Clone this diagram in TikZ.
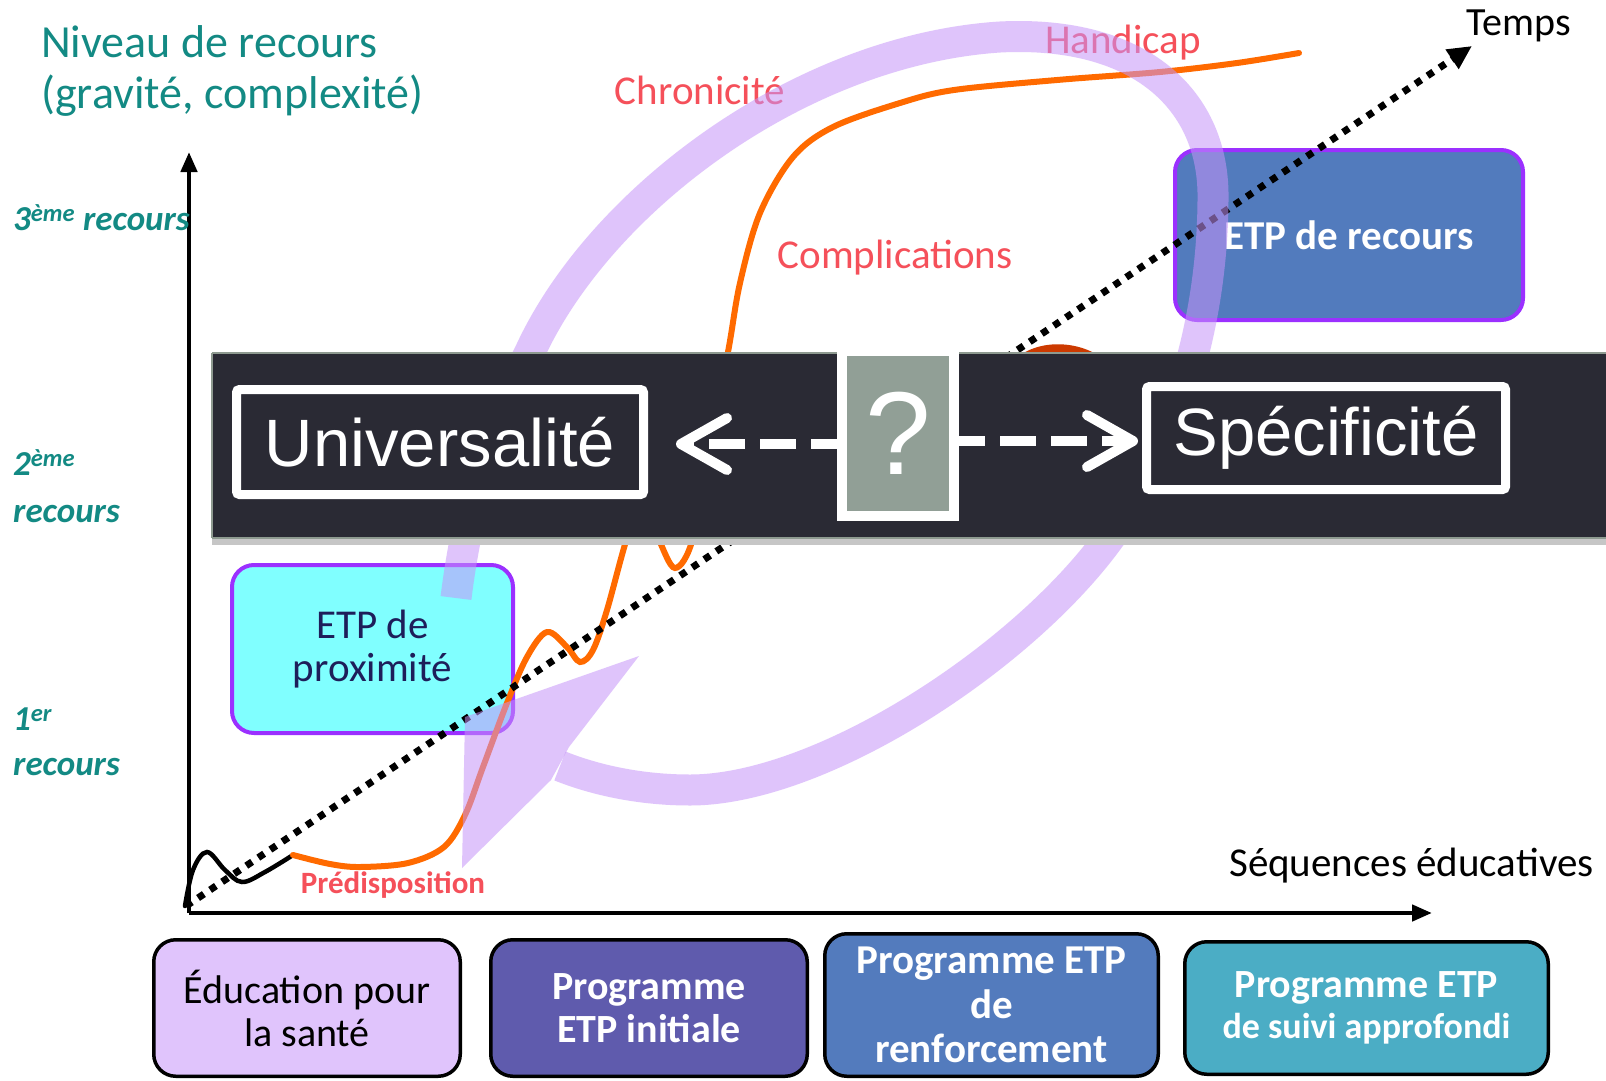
\documentclass[tikz,border=0pt]{standalone}
\usepackage{fontspec}
\setmainfont{Carlito}
\newfontfamily\arialf{Liberation Sans}
\usetikzlibrary{arrows.meta}
\definecolor{teal1}{HTML}{138A84}
\definecolor{redlbl}{HTML}{F5505A}
\definecolor{orng}{HTML}{FF6A00}
\definecolor{lav}{HTML}{C694F9}
\definecolor{bannerc}{HTML}{2A2A34}
\definecolor{bannerln}{HTML}{8E9A90}
\definecolor{qgray}{HTML}{919F96}
\definecolor{cyanbox}{HTML}{80FFFF}
\definecolor{purpbd}{HTML}{9B30FF}
\definecolor{blubox}{HTML}{527BBD}
\definecolor{bxa}{HTML}{E0C4FC}
\definecolor{bxb}{HTML}{5F5BAD}
\definecolor{bxc}{HTML}{537BBD}
\definecolor{bxd}{HTML}{4BADC5}
\definecolor{navy}{HTML}{1E1E5A}
\definecolor{bumpc}{HTML}{CC3A00}
\begin{document}
\begin{tikzpicture}[x=1pt,y=-1pt,
  lbl/.style={text=redlbl, font=\fontsize{41}{49}\selectfont, inner sep=0},
  tl/.style={text=teal1, font=\bfseries\itshape\fontsize{35}{40}\selectfont, anchor=west, inner sep=0},
  prog/.style={draw=black, line width=3.5pt, rounded corners=22pt, inner sep=0, align=center, font=\fontsize{40}{43}\selectfont},
  progw/.style={prog, text=white, font=\bfseries\fontsize{40}{43}\selectfont},
  etpbox/.style={draw=purpbd, line width=4pt, rounded corners=22pt, inner sep=0, align=center},
  wbox/.style={draw=white, line width=9pt, fill=bannerc, text=white, inner sep=0, rounded corners=3pt, font=\arialf\fontsize{67}{67}\selectfont},
  wdash/.style={white, line width=10pt, dash pattern=on 36pt off 15pt, -{Straight Barb[length=46pt,width=52pt,line cap=round,line join=round]}},
  axisln/.style={line width=4.5pt, -{Triangle[length=20pt,width=16pt]}},
  dotln/.style={line width=7pt, dash pattern=on 7pt off 7.5pt, -{Triangle[length=24pt,width=22pt]}},
  curve/.style={orng, line width=6pt, line cap=round},
  band/.style={draw=lav, line width=31pt, draw opacity=0.55},
  bandhead/.style={fill=lav, fill opacity=0.55},
]
\fill[white] (0,0) rectangle (1606,1081);
\useasboundingbox (0,0) rectangle (1606,1081);

% axes
\coordinate (ax0) at (189,913);
\coordinate (ytop) at (189,152);
\coordinate (xend) at (1432,913);
\draw[axisln] (ax0) -- (ytop);
\draw[axisln] (ax0) -- (xend);

% level boxes
\node[etpbox, fill=blubox, minimum width=348pt, minimum height=170pt, text=white,
      font=\bfseries\fontsize{41}{45}\selectfont] (recours) at (1349,235) {ETP de recours};
\node[etpbox, fill=cyanbox, minimum width=281pt, minimum height=168pt, text=navy,
      font=\fontsize{41}{43}\selectfont] (prox) at (372.5,649) {ETP de\\proximité};

% red labels
\node[lbl] (chron) at (700,90) {Chronicité};
\node[lbl] (handi) at (1123,43) {Handicap};
\node[lbl] (compl) at (895,258) {Complications};
\node[lbl, font=\bfseries\fontsize{31}{36}\selectfont] (predis) at (393,885) {Prédisposition};

% hidden bump above banner
\fill[bumpc] (1022,354) .. controls (1042,341) and (1073,341) .. (1096,354) -- cycle;

% black start wave and orange curve
\draw[line width=4.5pt, line cap=round] plot[smooth, tension=0.6] coordinates
  {(185,906) (193,870) (207,852) (225,870) (242,882) (265,872) (293,855)};
\draw[curve] plot[smooth, tension=0.55] coordinates
  {(293,855) (330,864) (360,867) (408,863) (444,847) (465,815) (483,767) (507,703)
   (527,657) (547,632) (567,647) (580,662) (593,650) (607,610) (627,538) (642,505)
   (658,538) (675,568) (693,538) (710,440) (728,352) (740,283) (760,213) (793,157)
   (833,127) (900,103) (954,90) (1057,80) (1160,72) (1237,63) (1299,53)};

% dotted time axis
\coordinate (torig) at (186,906);
\coordinate (ttip) at (1472,46);
\draw[dotln] (torig) -- (ttip);

% lavender circular arrow
\coordinate (bt) at (456,598);
\coordinate (bend) at (560,766);
\path[band] (bt) .. controls (468,500) and (495,420) .. (530,352)
  .. controls (600,200) and (800,50) .. (1000,37)
  .. controls (1140,30) and (1215,100) .. (1213,200)
  .. controls (1212,350) and (1160,470) .. (1108,540)
  .. controls (1020,660) and (820,790) .. (690,790)
  .. controls (640,790) and (595,780) .. (bend);
\path[bandhead] (639,656) -- (569,747) -- (551,780) -- (462,868) -- (465,717) -- cycle;

% banner
\fill[gray!45] (212,538) rectangle (1606,545);
\fill[bannerc] (212,353) rectangle (1606,538);
\draw[bannerln, line width=2.5pt] (212,353) -- (1606,353);
\draw[bannerln, line width=2pt] (212,538) -- (1606,538);
\draw[bannerln, line width=1.5pt] (212,353) -- (212,538);

\node[wbox, minimum width=407pt, minimum height=105pt] (univ) at (440,442) {Universalité};
\node[wbox, minimum width=359pt, minimum height=103pt] (spec) at (1326,438) {Spécificité};
\draw[wdash, shorten >=28pt] (898,444) -- (univ.east |- 898,444);
\draw[wdash, shorten >=4pt] (898,441) -- (spec.west |- 898,441);
\node[draw=white, fill=qgray, line width=10pt, minimum width=112pt, minimum height=165pt,
      inner sep=0, text=white, font=\arialf\fontsize{118}{118}\selectfont] (q) at (898,433.5) {?};

% programme boxes
\node[prog, fill=bxa, minimum width=306.5pt, minimum height=136.5pt] (b1) at (307,1008) {Éducation pour\\la santé};
\node[progw, fill=bxb, minimum width=316.5pt, minimum height=136.5pt] (b2) at (649,1008) {Programme\\ETP initiale};
\node[progw, fill=bxc, minimum width=333.5pt, minimum height=142.5pt,
      font=\bfseries\fontsize{41}{44.5}\selectfont] (b3) at (991.5,1005) {Programme ETP\\de\\renforcement};
\node[progw, fill=bxd, minimum width=363.5pt, minimum height=132.5pt,
      font=\bfseries\fontsize{40}{41}\selectfont] (b4) at (1366.5,1008)
      {Programme ETP\\{\fontsize{36}{40}\selectfont de suivi approfondi}};

% titles
\node[anchor=west, inner sep=0, text=teal1, font=\fontsize{46}{52}\selectfont] (t1) at (41,42) {Niveau de recours};
\node[anchor=west, inner sep=0, text=teal1, font=\fontsize{46}{52}\selectfont] (t2) at (41,96) {(gravité, complexité)};
\node[anchor=center, inner sep=0, font=\fontsize{40}{46}\selectfont] (temps) at (1519,26) {Temps};
\node[anchor=west, inner sep=0, font=\fontsize{41}{46}\selectfont] (seq) at (1229,866) {Séquences éducatives};

% level labels
\node[tl] (l3) at (13,218) {3\textsuperscript{ème} recours};
\node[tl] (l2a) at (13,463) {2\textsuperscript{ème}};
\node[tl] (l2b) at (13,514) {recours};
\node[tl] (l1a) at (13,719) {1\textsuperscript{er}};
\node[tl] (l1b) at (13,767) {recours};
\end{tikzpicture}
\end{document}
